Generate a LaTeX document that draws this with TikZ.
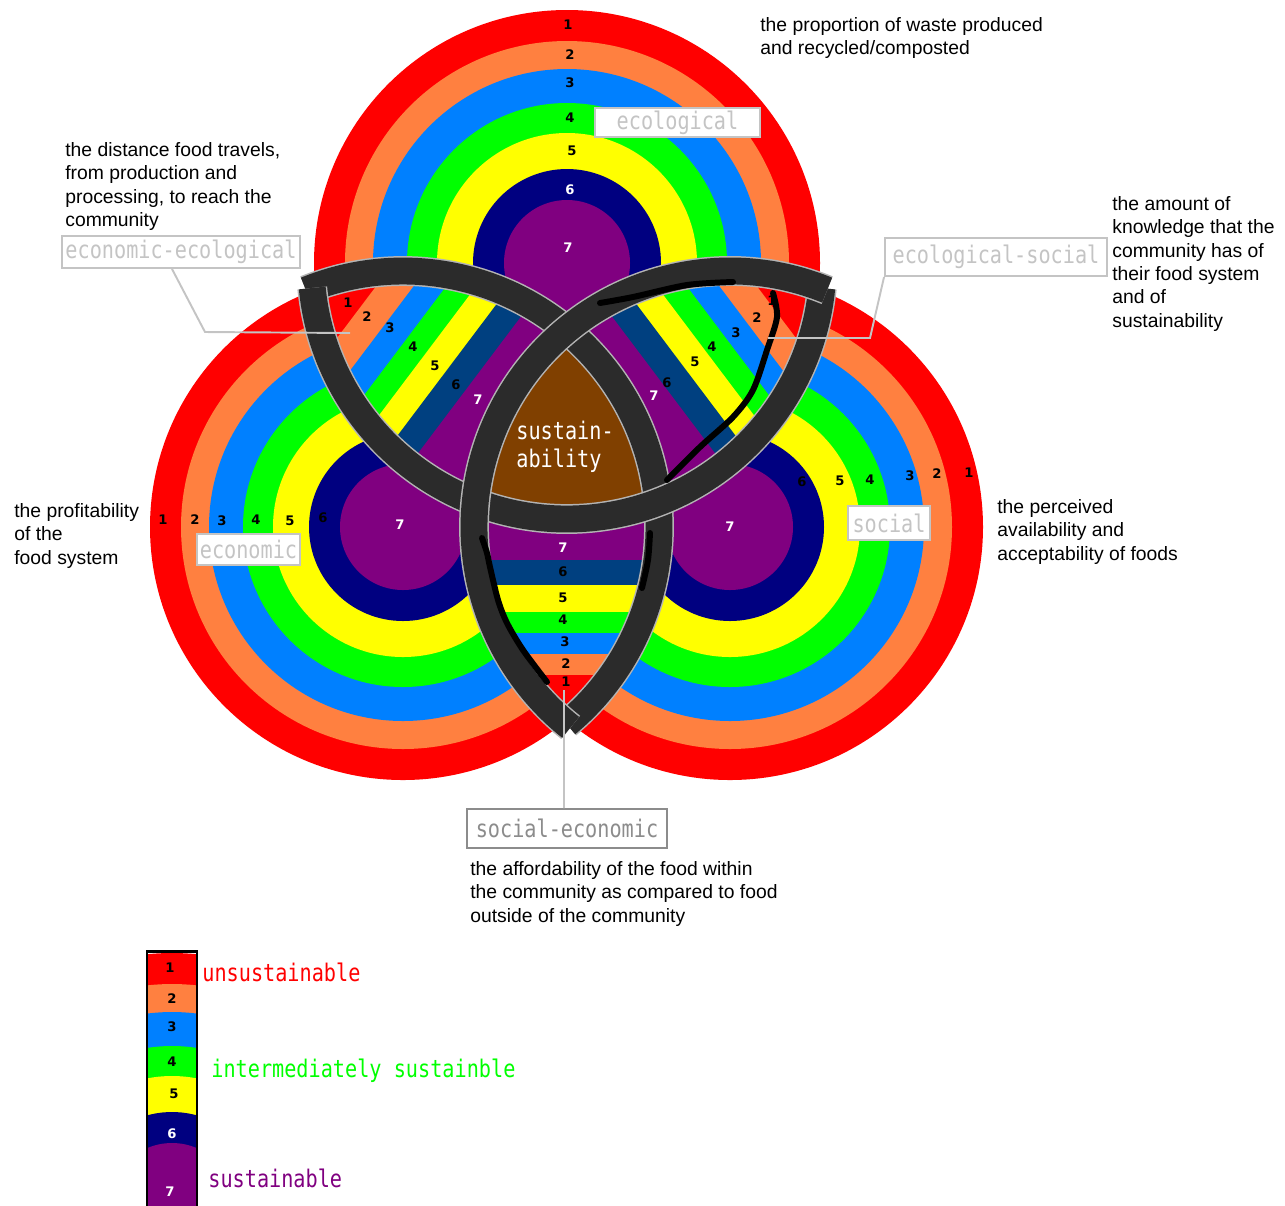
\documentclass[tikz,border=0pt]{standalone}
\usepackage{fontspec}
\usepackage{graphicx}
\setmainfont{Liberation Sans}
\newfontfamily\boxfont{DejaVu Sans Mono}
\newfontfamily\numfont{DejaVu Sans}
\usetikzlibrary{calc}

\definecolor{ringred}{HTML}{FF0000}
\definecolor{ringorange}{HTML}{FF8040}
\definecolor{ringblue}{HTML}{0080FF}
\definecolor{ringgreen}{HTML}{00FF00}
\definecolor{ringyellow}{HTML}{FFFF00}
\definecolor{ringnavy}{HTML}{000080}
\definecolor{ringpurple}{HTML}{800080}
\definecolor{stripenavy}{HTML}{004080}
\definecolor{corebrown}{HTML}{804000}
\definecolor{knotgrey}{HTML}{2B2B2B}
\definecolor{edgegrey}{HTML}{B4B4B4}
\definecolor{boxgrey}{HTML}{C4C4C4}
\definecolor{boxdark}{HTML}{8C8C8C}

\newcommand{\tall}[1]{\scalebox{1}[1.2]{#1}}

\begin{document}
\begin{tikzpicture}[x=0.02cm, y=0.02cm,
  ringnum/.style={font=\numfont\bfseries\fontsize{7.5}{8}\selectfont, inner sep=0pt},
  desctext/.style={font=\fontsize{11}{13.3}\selectfont, align=left, anchor=north west, inner sep=0pt},
  tagbox/.style={draw=boxgrey, line width=1.1pt, fill=white, text=boxgrey,
    font=\boxfont\fontsize{11.5}{14}\selectfont, inner sep=0pt},
  keytext/.style={font=\boxfont\fontsize{11.5}{14}\selectfont, anchor=base west, inner sep=0pt},
  callout/.style={boxgrey, line width=1.1pt},
  knotrim/.style={edgegrey, line width=17pt},
  knotband/.style={knotgrey, line width=15.3pt},
  scribble/.style={black, line width=3.4pt, line cap=round, line join=round}]
\useasboundingbox (0,0) rectangle (1285,-1205);

% Centres of the three circles and tips of the knot
\coordinate (T) at (567,-263);
\coordinate (L) at (403,-527);
\coordinate (R) at (730,-527);
\coordinate (TL) at (312.3,-287.8);
\coordinate (TR) at (820.7,-287.8);
\coordinate (B) at (566.5,-724);

% Concentric rings of the three circles
\foreach \ctr in {L,R,T} {
  \foreach \r/\col in {253/ringred, 222/ringorange, 194/ringblue, 160/ringgreen,
                       130/ringyellow, 94/ringnavy, 63/ringpurple} {
    \fill [\col] (\ctr) circle (\r);
  }
}

% Straight bands inside the three lenses
\begin{scope}
  \clip (T) circle (256); \clip (L) circle (256);
  \begin{scope}[shift={(TL)}, rotate=-37]
    \foreach \sa/\ea/\col in {-30/50/ringred, 50/80/ringorange, 80/106/ringblue, 106/130/ringgreen,
                              130/157/ringyellow, 157/184/stripenavy, 184/460/ringpurple}
      \fill [\col] (\sa,-240) rectangle (\ea+1,240);
  \end{scope}
\end{scope}
\begin{scope}
  \clip (T) circle (256); \clip (R) circle (256);
  \begin{scope}[shift={(TR)}, rotate=217]
    \foreach \sa/\ea/\col in {-30/50/ringred, 50/80/ringorange, 80/106/ringblue, 106/130/ringgreen,
                              130/157/ringyellow, 157/184/stripenavy, 184/460/ringpurple}
      \fill [\col] (\sa,-240) rectangle (\ea+1,240);
  \end{scope}
\end{scope}
\begin{scope}
  \clip (L) circle (256); \clip (R) circle (256);
  \begin{scope}[shift={(B)}, rotate=90]
    \foreach \sa/\ea/\col in {-30/49/ringred, 49/70/ringorange, 70/91/ringblue, 91/112/ringgreen,
                              112/139/ringyellow, 139/164/stripenavy, 164/460/ringpurple}
      \fill [\col] (\sa,-240) rectangle (\ea+1,240);
  \end{scope}
\end{scope}

% Core where all three meet
\begin{scope}
  \clip (T) circle (256); \clip (L) circle (256);
  \fill [corebrown] (R) circle (256);
\end{scope}

% Interlaced knot, one arc per circle
\foreach \ctr/\sa/\ea in {L/-50.3/112.3, T/185.6/354.4, R/67.7/231.5} {
  \draw [knotrim] ($(\ctr)+(\sa:256)$) arc (\sa:\ea:256);
  \draw [knotband] ($(\ctr)+(\sa:256)$) arc (\sa:\ea:256);
}

% Black marks drawn over the knot
\draw [scribble] plot [smooth] coordinates {(600,-303) (633,-297) (687,-285) (733,-282)};
\draw [scribble] plot [smooth] coordinates {(773,-293) (777,-317) (767,-350) (753,-390) (733,-417) (700,-447) (667,-480)};
\draw [scribble] plot [smooth] coordinates {(482,-538) (487,-553) (490,-567) (498,-600) (507,-623) (523,-650) (547,-682)};
\draw [scribble] plot [smooth] coordinates {(650,-533) (648,-560) (642,-588)};

% Ring numbers
\foreach \x/\y/\n/\tc [count=\k] in {
  568/25/1/black, 570/55/2/black, 570/83/3/black, 570/118/4/black, 572/151/5/black, 570/190/6/white, 568/248/7/white,
  163/520/1/black, 195/520/2/black, 222/521/3/black, 256/520/4/black, 290/521/5/black, 323/518/6/black, 400/525/7/white,
  969/473/1/black, 937/474/2/black, 910/476/3/black, 870/480/4/black, 840/481/5/black, 802/482/6/black, 730/527/7/white} {
  \node [ringnum, text=\tc] (rn\k) at (\x,-\y) {\n};
}
\foreach \x/\y/\n/\tc [count=\k] in {
  348/303/1/black, 367/317/2/black, 390/328/3/black, 413/347/4/black, 435/366/5/black, 456/385/6/black, 478/400/7/white,
  772/301/1/black, 757/318/2/black, 736/333/3/black, 712/347/4/black, 695/362/5/black, 667/383/6/black, 654/396/7/white,
  566/682/1/black, 566/664/2/black, 565/642/3/black, 563/620/4/black, 563/598/5/black, 563/572/6/black, 563/548/7/white} {
  \node [ringnum, text=\tc] (ln\k) at (\x,-\y) {\n};
}

% Core label
\node [font=\boxfont\fontsize{11.5}{16}\selectfont, text=white, align=left, anchor=north west, inner sep=0pt]
  (core) at (516,-421) {\tall{sustain-}\\\tall{ability}};

% Callout lines
\coordinate (ecoecobend) at (205,-332);
\coordinate (ecoecoend) at (350,-333);
\coordinate (ecosocbend) at (870,-338);
\coordinate (ecosocend) at (768,-338);
\coordinate (socecoend) at (564,-690);

% Name tags
\node [tagbox, minimum width=3.3cm, minimum height=0.58cm] (ecol) at (677.5,-122.5) {\tall{ecological}};
\node [tagbox, minimum width=2.06cm, minimum height=0.62cm] (econ) at (248.5,-549.5) {\tall{economic}};
\node [tagbox, minimum width=1.64cm, minimum height=0.68cm] (soc) at (889,-523) {\tall{social}};
\node [tagbox, minimum width=4.76cm, minimum height=0.64cm] (ecoeco) at (181,-252) {\tall{economic-ecological}};
\node [tagbox, minimum width=4.44cm, minimum height=0.76cm] (ecosoc) at (996,-257) {\tall{ecological-social}};
\node [tagbox, draw=boxdark, text=boxdark, minimum width=4.0cm, minimum height=0.78cm] (soceco) at (567,-828.5) {\tall{social-economic}};

\draw [callout] ([xshift=-0.18cm]ecoeco.south) -- (ecoecobend) -- (ecoecoend);
\draw [callout] (ecosoc.south west) -- (ecosocbend) -- (ecosocend);
\draw [callout] ([xshift=-0.06cm]soceco.north) -- (socecoend);

% Descriptions
\node [desctext] (waste) at (760,-17) {the proportion of waste produced\\and recycled/composted};
\node [desctext] (distance) at (65,-142) {the distance food travels,\\from production and\\processing, to reach the\\community};
\node [desctext] (knowledge) at (1112,-196) {the amount of\\knowledge that the\\community has of\\their food system\\and of\\sustainability};
\node [desctext] (profit) at (14,-503) {the profitability\\of the\\food system};
\node [desctext] (perceived) at (997,-499) {the perceived\\availability and\\acceptability of foods};
\node [desctext] (afford) at (470,-861) {the affordability of the food within\\the community as compared to food\\outside of the community};

% Legend bar, cut from the same rings
\begin{scope}
  \clip (147,-951) rectangle (197,-1205);
  \foreach \r/\col in {253/ringred, 222/ringorange, 194/ringblue, 160/ringgreen,
                       130/ringyellow, 94/ringnavy, 63/ringpurple} {
    \fill [\col] (172,-1206) circle (\r);
  }
\end{scope}
\draw [line width=1.4pt] (147,-1215) -- (147,-951.5) -- (197,-951.5) -- (197,-1215);
\foreach \x/\y/\n/\tc [count=\k] in {
  170/968/1/black, 172/999/2/black, 172/1027/3/black, 172/1062/4/black, 174/1094/5/black, 172/1134/6/white, 170/1192/7/white} {
  \node [ringnum, text=\tc] (kn\k) at (\x,-\y) {\n};
}
\node [keytext, text=ringred] (unsus) at (202,-981) {\tall{unsustainable}};
\node [keytext, text=ringgreen] (inter) at (211,-1077) {\tall{intermediately sustainble}};
\node [keytext, text=ringpurple] (sus) at (208,-1187) {\tall{sustainable}};

\end{tikzpicture}
\end{document}
